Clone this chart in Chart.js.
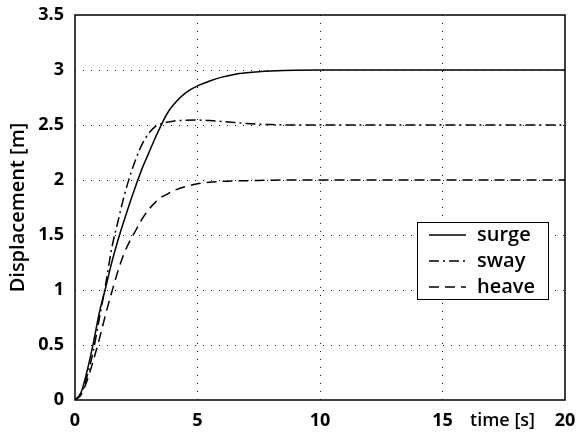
<!DOCTYPE html>
<html>
<head>
<meta charset="utf-8">
<script src="https://cdn.jsdelivr.net/npm/chart.js@4"></script>
<style>
  html, body { margin: 0; padding: 0; background: #fff; }
  #wrap { width: 577px; height: 435px; }
</style>
</head>
<body>
<div id="wrap"><canvas id="chart"></canvas></div>
<script>
// time samples [s] and displacement responses [m]
const time  = [0, 0.25, 0.5, 0.75, 1, 1.25, 1.5, 1.75, 2, 2.25, 2.5, 2.75, 3, 3.25, 3.5, 3.75, 4, 4.5, 5, 5.5, 6, 6.5, 7, 7.5, 8, 9, 10, 20];
const surge = [0, 0.07, 0.27, 0.52, 0.8, 1.02, 1.25, 1.45, 1.63, 1.8, 1.96, 2.11, 2.24, 2.37, 2.49, 2.6, 2.68, 2.79, 2.855, 2.9, 2.935, 2.96, 2.975, 2.985, 2.991, 2.998, 3, 3];
const sway  = [0, 0.05, 0.22, 0.45, 0.75, 1.05, 1.38, 1.62, 1.85, 2.04, 2.2, 2.33, 2.42, 2.48, 2.51, 2.525, 2.535, 2.543, 2.545, 2.54, 2.532, 2.522, 2.514, 2.508, 2.504, 2.5, 2.5, 2.5];
const heave = [0, 0.05, 0.18, 0.36, 0.56, 0.78, 0.98, 1.17, 1.33, 1.45, 1.55, 1.65, 1.73, 1.79, 1.84, 1.87, 1.9, 1.94, 1.965, 1.98, 1.988, 1.992, 1.994, 1.996, 1.998, 2, 2, 2];

const seriesNames = ['surge', 'sway', 'heave'];
const xTicks = [0, 5, 10, 15, 20];
const yTicks = [0, 0.5, 1, 1.5, 2, 2.5, 3, 3.5];

const FONT = "'Open Sans', 'DejaVu Sans', sans-serif";

function toPoints(values) {
    return time.map((t, i) => ({ x: t, y: values[i] }));
}

// frame round the plot, legend box and the "time [s]" label
const decorations = {
    id: 'decorations',
    afterDraw(chart) {
        const ctx = chart.ctx;
        const area = chart.chartArea;
        const xScale = chart.scales.x;

        ctx.save();
        ctx.strokeStyle = '#000';
        ctx.lineWidth = 1.5;
        ctx.setLineDash([]);
        ctx.strokeRect(area.left, area.top, area.right - area.left, area.bottom - area.top);

        // x axis title sits in the tick row between 15 and 20
        ctx.fillStyle = '#000';
        ctx.font = '600 18px ' + FONT;
        ctx.textAlign = 'center';
        ctx.textBaseline = 'middle';
        ctx.fillText('time [s]', xScale.getPixelForValue(17.45), area.bottom + 21);

        // legend
        const boxW = 131, boxH = 77;
        const bx = area.right - 17 - boxW;
        const by = area.top + 207;
        ctx.fillStyle = '#fff';
        ctx.fillRect(bx, by, boxW, boxH);
        ctx.lineWidth = 1;
        ctx.strokeStyle = '#000';
        ctx.strokeRect(bx + 0.5, by + 0.5, boxW, boxH);

        ctx.font = '600 20px ' + FONT;
        ctx.textAlign = 'left';
        chart.data.datasets.forEach((ds, i) => {
            const y = by + 13 + i * 26;
            ctx.beginPath();
            ctx.lineWidth = ds.borderWidth;
            ctx.strokeStyle = ds.borderColor;
            ctx.setLineDash(ds.borderDash || []);
            ctx.moveTo(bx + 12, y);
            ctx.lineTo(bx + 49, y);
            ctx.stroke();
            ctx.setLineDash([]);
            ctx.fillStyle = '#000';
            ctx.fillText(ds.label, bx + 60, y);
        });
        ctx.restore();
    }
};

const ctx = document.getElementById('chart').getContext('2d');

new Chart(ctx, {
    type: 'line',
    data: {
        datasets: [
            {
                label: seriesNames[0],
                data: toPoints(surge),
                borderColor: '#000',
                borderWidth: 1.5,
                borderDash: []
            },
            {
                label: seriesNames[1],
                data: toPoints(sway),
                borderColor: '#000',
                borderWidth: 1.5,
                borderDash: [10, 4, 2, 4]
            },
            {
                label: seriesNames[2],
                data: toPoints(heave),
                borderColor: '#000',
                borderWidth: 1.5,
                borderDash: [10, 6]
            }
        ]
    },
    options: {
        responsive: true,
        maintainAspectRatio: false,
        animation: false,
        layout: {
            padding: { top: 15, right: 12, left: 0, bottom: 0 }
        },
        elements: {
            point: { radius: 0 },
            line: { cubicInterpolationMode: 'monotone', fill: false }
        },
        plugins: {
            legend: { display: false },
            tooltip: { enabled: false }
        },
        scales: {
            x: {
                type: 'linear',
                min: 0,
                max: 20,
                afterBuildTicks: (scale) => {
                    scale.ticks = xTicks.map(v => ({ value: v }));
                },
                afterFit: (scale) => {
                    scale.height = 35;
                    scale.paddingLeft = 0;
                    scale.paddingRight = 0;
                },
                ticks: {
                    color: '#000',
                    padding: 10,
                    maxRotation: 0,
                    callback: (v) => String(v),
                    font: { family: FONT, size: 18, weight: 'bold' }
                },
                grid: {
                    color: (c) => (c.tick && (c.tick.value === 0 || c.tick.value === 20)) ? 'rgba(0,0,0,0)' : '#111',
                    lineWidth: 1,
                    drawTicks: false
                },
                border: { display: false, dash: [1, 7] }
            },
            y: {
                min: 0,
                max: 3.5,
                afterBuildTicks: (scale) => {
                    scale.ticks = yTicks.map(v => ({ value: v }));
                },
                afterFit: (scale) => {
                    scale.width = 75;
                    scale.paddingTop = 0;
                    scale.paddingBottom = 0;
                },
                ticks: {
                    color: '#000',
                    padding: 11,
                    callback: (v) => String(v),
                    font: { family: FONT, size: 18, weight: 'bold' }
                },
                grid: {
                    color: (c) => (c.tick && (c.tick.value === 0 || c.tick.value === 3.5)) ? 'rgba(0,0,0,0)' : '#111',
                    lineWidth: 1,
                    drawTicks: false
                },
                border: { display: false, dash: [1, 7] },
                title: {
                    display: true,
                    text: 'Displacement [m]',
                    color: '#000',
                    padding: { top: 6, bottom: 0 },
                    font: { family: FONT, size: 20, weight: '600' }
                }
            }
        }
    },
    plugins: [decorations]
});
</script>
</body>
</html>
